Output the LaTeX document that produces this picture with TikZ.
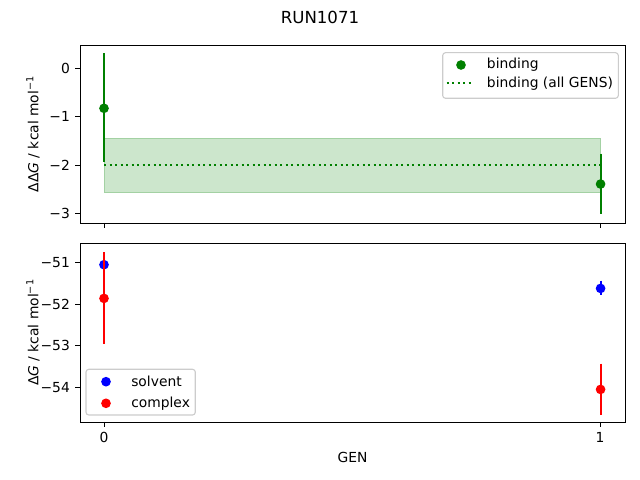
\documentclass[tikz,border=0pt]{standalone}
\usepackage{fontspec}
\setmainfont{DejaVu Sans}
\definecolor{mplgreen}{RGB}{0,128,0}

\begin{document}
\begin{tikzpicture}[x=0.01in, y=-0.01in, font=\fontsize{10pt}{12pt}\selectfont,
    frame/.style={line width=0.7pt},
    tck/.style={line width=0.7pt},
    err/.style={line width=1.5pt},
    dotted line/.style={line width=1.5pt, dash pattern=on 1.5pt off 2.475pt},
    dot/.style={circle, inner sep=0pt, minimum size=7pt},
    leg/.style={draw=black!20, fill=white, rounded corners=2pt, line width=0.8pt},
    txt/.style={anchor=west, inner sep=0pt}]
      \useasboundingbox (0,0) rectangle (640,480);
      \node (title) at (320,17) {\fontsize{12pt}{14pt}\selectfont RUN1071};
      % top panel: binding free energy
      \begin{scope}[shift={(104,68.3)}, x=4.963in, y=0.484in]
        \filldraw[fill=mplgreen, draw=mplgreen, opacity=0.2] (0,-1.446) rectangle (1,-2.57);
        \draw[mplgreen, dotted line] (0,-2) -- (1,-2);
        \draw[mplgreen, err] (0,0.31) -- (0,-1.93) (1,-1.76) -- (1,-3.01);
        \node[dot, fill=mplgreen] (b0) at (0,-0.826) {};
        \node[dot, fill=mplgreen] (b1) at (1,-2.39) {};
      \end{scope}
      % bottom panel: solvent and complex
      \begin{scope}[shift={(104,-1856.35)}, x=4.963in, y=0.4155in]
        \draw[blue, err] (0,-50.98) -- (0,-51.06) (1,-51.40) -- (1,-51.76);
        \node[dot, fill=blue] (s0) at (0,-51.02) {};
        \node[dot, fill=blue] (s1) at (1,-51.59) {};
        \draw[red, err] (0,-50.72) -- (0,-52.93) (1,-53.40) -- (1,-54.63);
        \node[dot, fill=red] (c0) at (0,-51.83) {};
        \node[dot, fill=red] (c1) at (1,-54.02) {};
      \end{scope}
      \draw[frame] (80,45) rectangle (625,223);
      \draw[frame] (80,243) rectangle (625,422);
      \foreach \v/\t [count=\i] in {0/0,-1/−1,-2/−2,-3/−3}
        \draw[tck] (80,{68.3-48.4*\v}) -- ++(-3.5pt,0) node[left=3.5pt, inner sep=0pt] (ty\i) {\t};
      \foreach \v/\t [count=\i] in {51/−51,52/−52,53/−53,54/−54}
        \draw[tck] (80,{262.7+41.55*(\v-51)}) -- ++(-3.5pt,0) node[left=3.5pt, inner sep=0pt] (by\i) {\t};
      \foreach \x/\t [count=\i] in {104/0,600/1} {
        \draw[tck] (\x,223) -- ++(0,-3.5pt);
        \draw[tck] (\x,422) -- ++(0,-3.5pt) node[below=3.5pt, inner sep=0pt] (bx\i) {\t};
      }
      \node (genlab) at (352.5,457) {GEN};
      \node[rotate=90] (ddglab) at (33,134) {ΔΔ\textit{G} / kcal mol\textsuperscript{−1}};
      \node[rotate=90] (dglab) at (33,332.5) {Δ\textit{G} / kcal mol\textsuperscript{−1}};
      % legends
      \draw[leg] (442.7,52.7) rectangle (618.3,98.3);
      \node[dot, fill=mplgreen] (lgb) at (461,65) {};
      \node[txt] (lgbt) at (486.7,65) {binding};
      \coordinate (lga1) at (446.7,83.3);
      \coordinate (lga2) at (474,83.3);
      \draw[mplgreen, dotted line] (lga1) -- (lga2);
      \node[txt] (lgat) at (486.7,83.3) {binding (all GENS)};
      \draw[leg] (86,369.3) rectangle (195.3,415);
      \node[dot, fill=blue] (lgs) at (106,381.7) {};
      \node[txt] (lgst) at (131,381.7) {solvent};
      \node[dot, fill=red] (lgc) at (106,403.3) {};
      \node[txt] (lgct) at (131,403.3) {complex};
\end{tikzpicture}
\end{document}
